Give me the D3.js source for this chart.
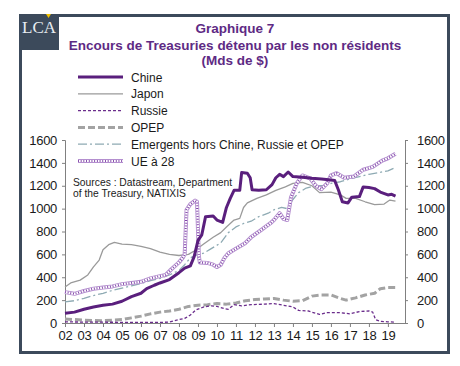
<!DOCTYPE html>
<html><head><meta charset="utf-8">
<script src="https://cdn.jsdelivr.net/npm/d3@7"></script>
<style>
html,body{margin:0;padding:0;background:#fff;}
svg{display:block;font-family:"Liberation Sans",Arial,sans-serif;}
</style></head>
<body><svg id="c" width="460" height="366"></svg>
<script>
// ---- data: [year, value in Mds $] ----
const chine = [[2002.0,85],[2002.5,95],[2003.0,120],[2003.5,140],[2004.0,155],[2004.5,165],[2005.0,190],[2005.5,230],[2006.0,260],[2006.3,300],[2006.7,330],[2007.0,350],[2007.5,380],[2008.0,440],[2008.3,480],[2008.6,500],[2008.8,580],[2009.0,720],[2009.2,770],[2009.4,930],[2009.8,935],[2010.0,900],[2010.3,880],[2010.5,1010],[2010.7,1090],[2010.9,1160],[2011.2,1160],[2011.3,1315],[2011.6,1310],[2011.75,1270],[2011.85,1165],[2012.2,1160],[2012.6,1165],[2012.9,1210],[2013.1,1270],[2013.3,1300],[2013.5,1280],[2013.75,1320],[2014.0,1280],[2014.5,1275],[2015.0,1265],[2015.5,1260],[2016.0,1250],[2016.2,1245],[2016.4,1160],[2016.6,1060],[2016.9,1050],[2017.1,1100],[2017.5,1105],[2017.7,1190],[2018.0,1185],[2018.3,1175],[2018.6,1145],[2019.0,1120],[2019.2,1125],[2019.4,1110]];
const japon = [[2002.0,315],[2002.3,350],[2002.8,375],[2003.2,420],[2003.5,490],[2003.8,550],[2004.0,640],[2004.3,685],[2004.6,705],[2005.0,690],[2005.5,685],[2006.0,670],[2006.5,650],[2007.0,620],[2007.5,600],[2008.0,590],[2008.5,600],[2008.8,630],[2009.3,690],[2009.8,750],[2010.2,790],[2010.5,840],[2010.9,900],[2011.2,915],[2011.4,1010],[2011.6,1050],[2012.1,1090],[2012.6,1120],[2013.1,1160],[2013.6,1190],[2014.0,1220],[2014.5,1230],[2015.0,1200],[2015.4,1140],[2016.0,1145],[2016.5,1120],[2016.8,1090],[2017.3,1090],[2017.8,1060],[2018.3,1035],[2018.8,1040],[2019.1,1075],[2019.4,1065]];
const russie = [[2002.0,10],[2003.0,8],[2004.0,7],[2005.0,6],[2006.0,5],[2007.0,5],[2007.5,8],[2008.0,30],[2008.3,40],[2008.6,70],[2008.9,115],[2009.3,140],[2009.7,150],[2010.0,145],[2010.4,125],[2010.6,120],[2010.9,160],[2011.3,150],[2011.8,160],[2012.5,165],[2013.0,170],[2013.5,155],[2014.0,140],[2014.3,110],[2014.8,105],[2015.4,75],[2015.8,90],[2016.5,90],[2017.0,80],[2017.5,100],[2018.0,105],[2018.2,95],[2018.35,30],[2018.6,15],[2019.0,10],[2019.4,8]];
const opep = [[2002.0,35],[2002.5,30],[2003.0,25],[2004.0,20],[2005.0,30],[2005.5,45],[2006.0,60],[2006.5,80],[2007.0,95],[2007.5,105],[2008.0,120],[2008.5,145],[2009.0,155],[2009.5,160],[2010.0,170],[2010.5,165],[2011.0,175],[2011.5,195],[2012.0,205],[2012.5,210],[2013.0,215],[2013.5,200],[2014.0,190],[2014.5,195],[2015.0,235],[2015.5,245],[2016.0,245],[2016.5,215],[2016.8,200],[2017.3,220],[2017.8,245],[2018.3,260],[2018.6,300],[2019.0,310],[2019.4,310]];
const emergents = [[2002.0,185],[2002.5,195],[2003.0,215],[2003.5,240],[2004.0,260],[2004.5,285],[2005.0,305],[2005.5,325],[2006.0,345],[2006.5,370],[2007.0,390],[2007.5,420],[2008.0,460],[2008.3,510],[2008.6,570],[2009.0,600],[2009.3,610],[2009.7,650],[2010.2,700],[2010.6,790],[2011.0,840],[2011.4,870],[2011.8,890],[2012.2,930],[2012.7,960],[2013.0,990],[2013.4,1010],[2013.7,1000],[2014.0,1080],[2014.3,1140],[2014.7,1180],[2015.2,1200],[2015.6,1200],[2016.0,1220],[2016.5,1235],[2017.0,1260],[2017.5,1280],[2018.0,1300],[2018.5,1315],[2019.0,1330],[2019.4,1360]];
const ue28 = [[2002.0,270],[2002.5,255],[2003.0,280],[2003.5,300],[2004.0,310],[2004.5,320],[2005.0,340],[2005.5,350],[2006.0,360],[2006.5,390],[2007.0,410],[2007.3,420],[2007.6,470],[2008.0,530],[2008.2,570],[2008.3,600],[2008.4,990],[2008.6,1040],[2008.85,1070],[2008.95,1060],[2009.05,580],[2009.1,530],[2009.5,525],[2009.8,510],[2010.0,490],[2010.2,510],[2010.4,570],[2010.6,610],[2011.0,650],[2011.5,700],[2011.8,750],[2012.3,810],[2012.8,870],[2013.0,900],[2013.3,960],[2013.5,910],[2013.7,900],[2013.9,1100],[2014.2,1220],[2014.5,1290],[2014.9,1265],[2015.2,1200],[2015.5,1170],[2015.8,1220],[2016.0,1290],[2016.3,1310],[2016.7,1270],[2017.2,1280],[2017.7,1340],[2018.2,1365],[2018.7,1420],[2019.0,1440],[2019.4,1480]];
const yearTicks = [2002,2003,2004,2005,2006,2007,2008,2009,2010,2011,2012,2013,2014,2015,2016,2017,2018,2019];
const yearLabels = ["02","03","04","05","06","07","08","09","10","11","12","13","14","15","16","17","18","19"];
const valueTicks = [0,200,400,600,800,1000,1200,1400,1600];
const seriesNames = ["Chine","Japon","Russie","OPEP","Emergents hors Chine, Russie et OPEP","UE à 28"];

const svg = d3.select("#c");
const slate = "#3c4a5b", purple = "#5e2a84";

// frame
svg.append("rect").attr("x",20.5).attr("y",15.5).attr("width",428).attr("height",337)
  .attr("fill","#fff").attr("stroke",slate).attr("stroke-width",3);
// logo
svg.append("rect").attr("x",19).attr("y",14).attr("width",40).attr("height",36).attr("fill",slate);
svg.append("text").attr("x",39).attr("y",33).attr("text-anchor","middle")
  .attr("font-family","'Liberation Serif','DejaVu Serif',serif").attr("font-size",17)
  .attr("fill","#e8edf2").text("LCA");
svg.append("path").attr("d","M46,14 L51,14 L48.5,18 Z").attr("fill","#f2c200");

// title
const title = ["Graphique 7","Encours de Treasuries détenu par les non résidents","(Mds de $)"];
svg.append("g").selectAll("text").data(title).join("text")
  .attr("x",235).attr("y",(d,i)=>[33,50,65][i]).attr("text-anchor","middle")
  .attr("font-weight","bold").attr("font-size",13.5).attr("fill",purple).text(d=>d);

// scales
const x = d3.scaleLinear().domain([2002,2019.9]).range([65,405]);
const y = d3.scaleLinear().domain([0,1600]).range([323,140]);

// axes
const fmt = d => d;
const gL = svg.append("g").attr("transform","translate(65,0)")
  .call(d3.axisLeft(y).tickValues(valueTicks).tickSize(3).tickPadding(5).tickFormat(fmt));
const gR = svg.append("g").attr("transform","translate(405,0)")
  .call(d3.axisRight(y).tickValues(valueTicks).tickSize(3).tickPadding(9).tickFormat(fmt));
const gB = svg.append("g").attr("transform","translate(0,323)")
  .call(d3.axisBottom(x).tickValues(yearTicks).tickSize(4).tickPadding(4).tickFormat((d,i)=>yearLabels[i]));
[gL,gR,gB].forEach(g=>{
  g.select(".domain").attr("stroke","#808080");
  g.selectAll(".tick line").attr("stroke","#808080");
  g.selectAll("text").attr("font-size",13).attr("fill","#1a1a1a")
    .attr("font-family","'Liberation Sans',Arial,sans-serif").attr("letter-spacing",-0.3);
});
gB.select(".domain").attr("d","M65,0.5H405");

// lines
const line = d3.line().x(d=>x(d[0])).y(d=>y(d[1]));
const plot = svg.append("g");
const ueOuter = "#b48fcf", ueDots = "#7d3fa6";
function drawUE(sel){
  sel.append("path").attr("fill","none").attr("stroke",ueOuter).attr("stroke-width",4).attr("stroke-linejoin","round");
  sel.append("path").attr("fill","none").attr("stroke","#fff").attr("stroke-width",2.2).attr("stroke-linejoin","round");
  sel.append("path").attr("fill","none").attr("stroke",ueDots).attr("stroke-width",2.2).attr("stroke-dasharray","0.9,1.8");
}
const styles = [
  {data:opep, stroke:"#a3a3a3", w:3, dash:"7,3"},
  {data:russie, stroke:"#6b2d8c", w:1.3, dash:"3,2"},
  {data:emergents, stroke:"#8eaab3", w:1.3, dash:"9,3,2,3"},
  {data:japon, stroke:"#9a9a9a", w:1.3, dash:null},
  {data:ue28, ue:true},
  {data:chine, stroke:"#5a1f7d", w:3, dash:null}
];
styles.forEach(s=>{
  if(s.ue){
    const g = plot.append("g");
    drawUE(g);
    g.selectAll("path").datum(s.data).attr("d",line);
  } else {
    plot.append("path").datum(s.data).attr("d",line).attr("fill","none")
      .attr("stroke",s.stroke).attr("stroke-width",s.w).attr("stroke-dasharray",s.dash)
      .attr("stroke-linejoin","round");
  }
});

// sources
svg.append("g").selectAll("text").data(["Sources  : Datastream, Department","of the Treasury, NATIXIS"]).join("text")
  .attr("x",73).attr("y",(d,i)=>186+i*11).attr("font-size",10.3).attr("fill","#1a1a1a").text(d=>d);

// legend
const legStyles = [
  {stroke:"#5a1f7d", w:3, dash:null},
  {stroke:"#9a9a9a", w:1.3, dash:null},
  {stroke:"#6b2d8c", w:1.3, dash:"3,2"},
  {stroke:"#a3a3a3", w:3, dash:"7,3"},
  {stroke:"#8eaab3", w:1.3, dash:"9,3,2,3"},
  {ue:true}
];
const leg = svg.append("g");
seriesNames.forEach((n,i)=>{
  const yy = 77 + i*16.8;
  const s = legStyles[i];
  if(s.ue){
    const g = leg.append("g");
    drawUE(g);
    g.selectAll("path").attr("d",`M78,${yy}H123`);
  } else {
    leg.append("line").attr("x1",78).attr("x2",123).attr("y1",yy).attr("y2",yy)
      .attr("stroke",s.stroke).attr("stroke-width",s.w).attr("stroke-dasharray",s.dash);
  }
  leg.append("text").attr("x",131).attr("y",yy+4.5).attr("font-size",12).attr("fill","#1a1a1a").text(n);
});
</script></body></html>
